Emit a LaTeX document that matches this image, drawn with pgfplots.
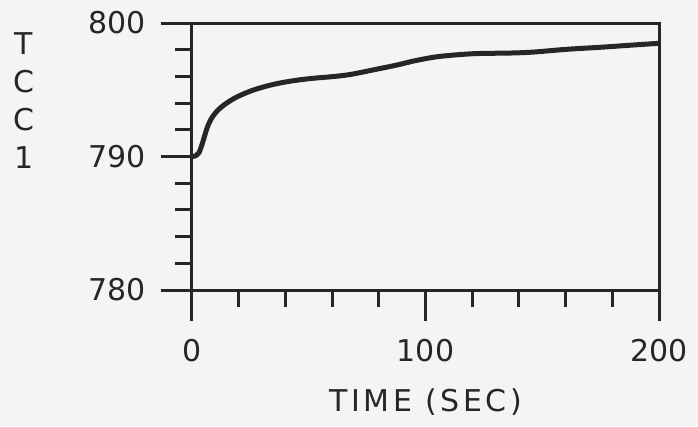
\documentclass[border=0pt]{standalone}
\usepackage{pgfplots}
\pgfplotsset{compat=1.18}
\usepackage{fontspec}
\setmainfont{DejaVu Sans}
\definecolor{ink}{HTML}{262626}
\definecolor{paper}{HTML}{F4F4F4}
\begin{document}
\begin{tikzpicture}
\path[use as bounding box, fill=paper] (-192pt,-136pt) rectangle (506pt,290pt);
\begin{axis}[
 scale only axis, width=467pt, height=267pt,
 xmin=0,xmax=200,ymin=780,ymax=800,
 axis line style={line width=3pt, draw=ink},
 xtick={0,100,200}, minor xtick={20,40,...,180},
 ytick={780,790,800}, minor ytick={782,784,...,798},
 tick align=outside, major tick length=31pt, minor tick length=17pt,
 tick style={line width=3pt, ink},
 tick pos=left,
 tick label style={font=\fontsize{30}{36}\selectfont, text=ink},
 xticklabel style={yshift=-15pt},
 yticklabel style={xshift=-12pt},
 /pgf/number format/assume math mode=true,
 xlabel={TIME (SEC)},
 xlabel style={font=\fontsize{30}{36}\selectfont\addfontfeatures{LetterSpace=12}, text=ink, at={(axis description cs:0.5,0)}, anchor=center, yshift=-112pt},
 ylabel={T\\C\\C\\1},
 ylabel style={font=\fontsize{30}{38}\selectfont, text=ink, align=center, rotate=-90, at={(axis description cs:-0.36,0.71)}, anchor=center},
]
\addplot[ink, line width=5pt, smooth, tension=0.5] coordinates {
(0,790.0) (1.5,790.05) (3,790.3) (4.3,790.9) (5.5,791.6) (6.8,792.3) (8.5,792.9)
(11,793.45) (14,793.9) (19.1,794.45) (26.3,794.98) (34.8,795.4) (43.5,795.68) (51.9,795.86)
(60,795.98) (68,796.15) (78,796.5) (87.7,796.85) (96.2,797.2) (106.2,797.5) (120.5,797.7)
(136.2,797.75) (146.0,797.82) (160.5,798.03) (174.7,798.18) (188.9,798.35) (200,798.48)
};
\end{axis}
\end{tikzpicture}
\end{document}
